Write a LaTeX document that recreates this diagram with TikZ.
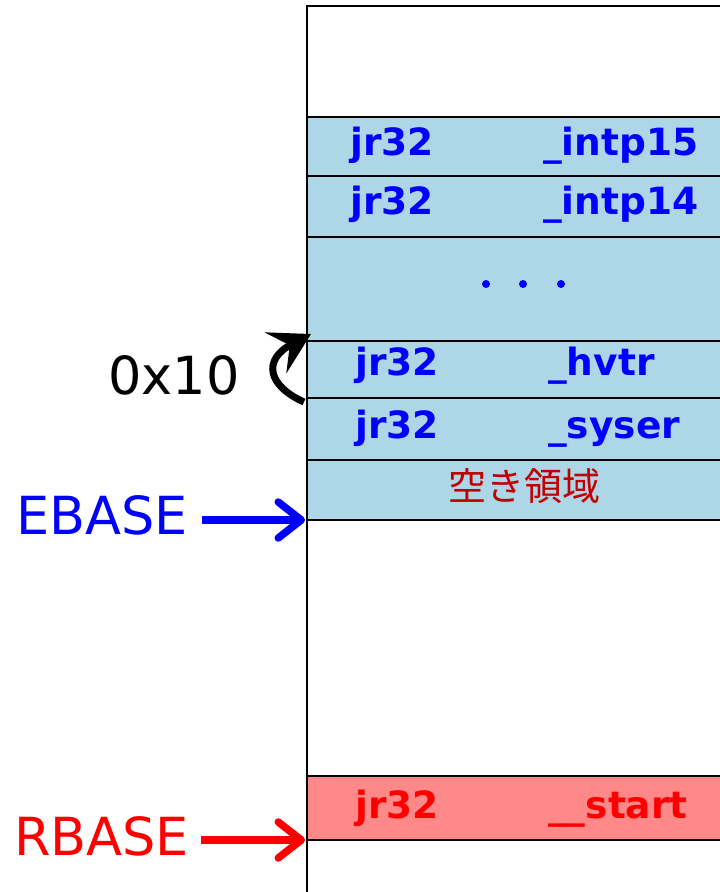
\documentclass[tikz,border=0pt]{standalone}
\usepackage{fontspec}
\setmainfont{DejaVu Sans}
\newfontfamily\jpfont{Noto Sans CJK JP}
\usetikzlibrary{arrows.meta}

\definecolor{slotblue}{RGB}{173,214,230}
\definecolor{slotred}{RGB}{255,136,136}
\definecolor{freered}{RGB}{192,0,0}

\tikzset{
  grid line/.style={line width=2.4pt, black},
  insn/.style={inner sep=0pt, anchor=base west, font=\bfseries\fontsize{37.5}{40}\selectfont},
  vecinsn/.style={insn, text=blue},
  resinsn/.style={insn, text=red},
  regname/.style={inner sep=0pt, anchor=base west, font=\fontsize{52.5}{58}\selectfont},
  ptr/.style={line width=7.5pt, -{Straight Barb[length=23pt,width=36pt,round]}},
}

\begin{document}
\begin{tikzpicture}[x=1pt,y=-1pt]
\useasboundingbox (0,0) rectangle (720,892);
\clip (0,0) rectangle (720,892);

% memory column: filled regions
\fill[slotblue] (307,117) rectangle (740,520);
\fill[slotred] (307,776) rectangle (740,840);

% column outline and slot boundaries
\draw[grid line] (307,900) -- (307,6) -- (740,6);
\foreach \y in {117,176,237,341,398,460,520,776,840}
  \draw[grid line] (307,\y) -- (740,\y);

% vector table entries
\node[vecinsn] (op15)  at (350,155) {jr32};
\node[vecinsn] (tgt15) at (543,155) {\_intp15};
\node[vecinsn] (op14)  at (350,214) {jr32};
\node[vecinsn] (tgt14) at (543,214) {\_intp14};

\foreach \x in {486,523,561}
  \fill[blue] (\x,284) circle (4);

\node[vecinsn] (ophv)  at (355,375) {jr32};
\node[vecinsn] (tgthv) at (548,375) {\_hvtr};
\node[vecinsn] (opsy)  at (355,438) {jr32};
\node[vecinsn] (tgtsy) at (548,438) {\_syser};

\node[text=freered, font=\jpfont\fontsize{38}{40}\selectfont, inner sep=0pt]
  (free) at (524,486) {空き領域};

% reset vector
\node[resinsn] (opst)  at (355,818) {jr32};
\node[resinsn] (tgtst) at (548,818) {\_\_start};

% base register pointers
\coordinate (ebasetip) at (305,520);
\coordinate (rbasetip) at (305,840);
\node[regname, text=blue] (ebase) at (16,534) {EBASE};
\node[regname, text=red]  (rbase) at (14,855) {RBASE};
\draw[ptr, blue, shorten <=14pt] (ebase.east |- ebasetip) -- (ebasetip);
\draw[ptr, red,  shorten <=12pt] (rbase.east |- rbasetip) -- (rbasetip);

% entry spacing
\node[regname] (step10) at (108,394) {0x10};
\coordinate (stepfrom) at (304,402);
\coordinate (stepto) at (311,334);
\draw[line width=7pt, -{Stealth[length=40pt,width=46pt,inset=16pt]}]
  (stepfrom) .. controls (268,386) and (262,360) .. (stepto);
\end{tikzpicture}
\end{document}
